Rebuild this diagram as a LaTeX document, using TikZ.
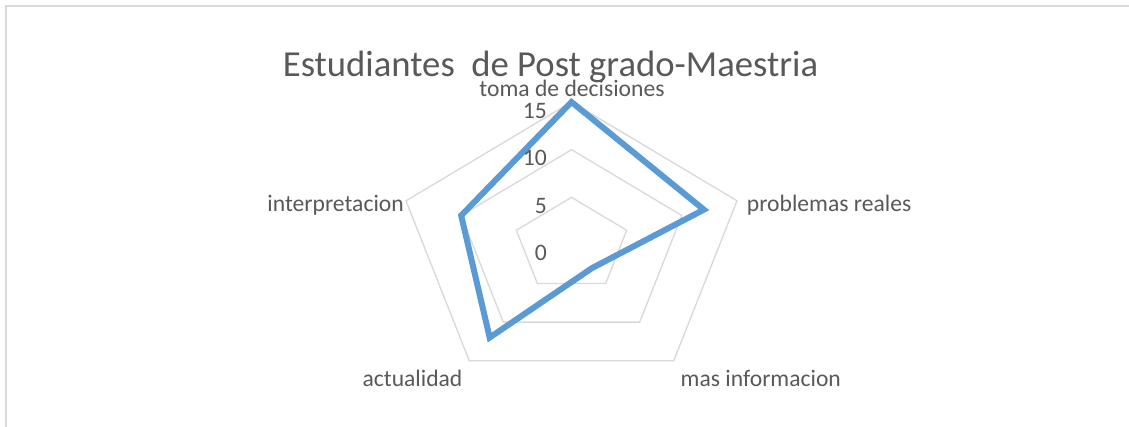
\documentclass[tikz,border=0pt]{standalone}
\usepackage{fontspec}
\setmainfont{Carlito}
\definecolor{txt}{HTML}{595959}
\definecolor{gridc}{HTML}{D9D9D9}
\definecolor{serie}{HTML}{5B9BD5}
\begin{document}
\begin{tikzpicture}[x=0.75pt,y=-0.75pt,
  gridline/.style={draw=gridc, line width=1pt},
  frame/.style={draw=gridc, line width=1.25pt},
  serieline/.style={draw=serie, line width=4.5pt, line join=miter},
  lbl/.style={text=txt, inner sep=0pt, font=\fontsize{17.7}{21}\selectfont},
  ttl/.style={text=txt, inner sep=0pt, font=\fontsize{27.5}{33}\selectfont}]
\useasboundingbox (0,0) rectangle (1129,427);
\fill[white] (0,0) rectangle (1129,427);
\draw[frame] (6,427) -- (6,6) -- (1129,6);
\def\cx{571.5}
\def\cy{245}
\def\rx{174}
\def\ry{143}
\foreach \f in {5,10,15}
  \draw[gridline] plot[samples at={90,18,-54,-126,162}] ({\cx+\rx*\f/15*cos(\x)},{\cy-\ry*\f/15*sin(\x)}) -- cycle;
\coordinate (d1) at ({\cx+\rx*15/15*cos(90)},{\cy-\ry*15/15*sin(90)});
\coordinate (d2) at ({\cx+\rx*12/15*cos(18)},{\cy-\ry*12/15*sin(18)});
\coordinate (d3) at ({\cx+\rx*3/15*cos(-54)},{\cy-\ry*3/15*sin(-54)});
\coordinate (d4) at ({\cx+\rx*12/15*cos(-126)},{\cy-\ry*12/15*sin(-126)});
\coordinate (d5) at ({\cx+\rx*10/15*cos(162)},{\cy-\ry*10/15*sin(162)});
\draw[serieline] (d1) -- (d2) -- (d3) -- (d4) -- (d5) -- cycle;
\node[ttl, anchor=base] (title) at (550.5,77) {Estudiantes~ de Post grado-Maestria};
\node[lbl, anchor=base] (toma) at (572,96.5) {toma de decisiones};
\node[lbl, anchor=base west] (prob) at (746.7,211.7) {problemas reales};
\node[lbl, anchor=base east] (interp) at (404,211.7) {interpretacion};
\node[lbl, anchor=base] (actu) at (412.5,386.7) {actualidad};
\node[lbl, anchor=base] (masi) at (760.8,386.7) {mas informacion};
\node[lbl, anchor=base east] (t15) at (547,118.5) {15};
\node[lbl, anchor=base east] (t10) at (547,166) {10};
\node[lbl, anchor=base east] (t5) at (547,213.5) {5};
\node[lbl, anchor=base east] (t0) at (547,261) {0};
\end{tikzpicture}
\end{document}
